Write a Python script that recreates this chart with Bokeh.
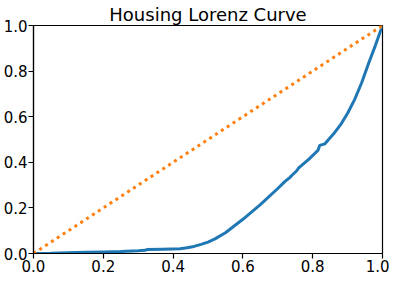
from bokeh.plotting import figure
from bokeh.models import Range1d, FixedTicker
from bokeh.embed import file_html
from bokeh.resources import INLINE

title_text = "Housing Lorenz Curve"
ticks = [0.0, 0.2, 0.4, 0.6, 0.8, 1.0]
tick_labels = {0.0: "0.0", 0.2: "0.2", 0.4: "0.4", 0.6: "0.6", 0.8: "0.8", 1.0: "1.0"}

# Lorenz curve (cumulative population share vs cumulative housing share)
pop_share = [0, 0.05, 0.1, 0.15, 0.2, 0.25, 0.3, 0.32, 0.325, 0.37, 0.42, 0.44, 0.46, 0.48,
             0.5, 0.52, 0.55, 0.6, 0.65, 0.7, 0.72, 0.735, 0.74, 0.755, 0.76, 0.79, 0.815,
             0.82, 0.835, 0.86, 0.88, 0.90, 0.92, 0.94, 0.96, 0.98, 1.0]
housing_share = [0, 0.001, 0.003, 0.005, 0.007, 0.009, 0.012, 0.014, 0.017, 0.019, 0.021,
                 0.025, 0.031, 0.040, 0.050, 0.064, 0.091, 0.15, 0.214, 0.285, 0.315, 0.334,
                 0.342, 0.364, 0.376, 0.415, 0.452, 0.474, 0.481, 0.525, 0.565, 0.615,
                 0.675, 0.748, 0.833, 0.914, 1.0]
# line of equality
equal_x = [0, 1]
equal_y = [0, 1]

FONT = "DejaVu Sans"

p = figure(width=389, height=274, output_backend="svg", toolbar_location=None,
           x_range=Range1d(0, 1), y_range=Range1d(0, 1),
           min_border_left=28, min_border_right=7, min_border_top=0, min_border_bottom=0)
p.background_fill_color = "white"
p.border_fill_color = "white"
p.outline_line_color = "black"
p.outline_line_width = 1.2
p.xgrid.visible = False
p.ygrid.visible = False

p.title.text = title_text
p.title.align = "center"
p.title.text_font = FONT
p.title.text_font_size = "18px"
p.title.text_font_style = "normal"
p.title.text_color = "black"
p.title.offset = 0
p.title.standoff = 2

p.line(pop_share, housing_share, line_color="#1f77b4", line_width=3)
p.line(equal_x, equal_y, line_color="#ff7f0e", line_width=3, line_dash="3 4")

for ax in (p.xaxis[0], p.yaxis[0]):
    ax.ticker = FixedTicker(ticks=ticks)
    ax.major_label_overrides = tick_labels
    ax.major_label_text_font = FONT
    ax.major_label_text_font_size = "15px"
    ax.major_label_text_color = "black"
    ax.axis_line_color = "black"
    ax.axis_line_width = 1.2
    ax.major_tick_line_color = "black"
    ax.major_tick_line_width = 1.2
    ax.major_tick_out = 5
    ax.major_tick_in = 0
    ax.minor_tick_out = 0
    ax.minor_tick_in = 0
p.xaxis.major_label_standoff = 1
p.yaxis.major_label_standoff = 1

open("out.html", "w").write(file_html(p, INLINE))
